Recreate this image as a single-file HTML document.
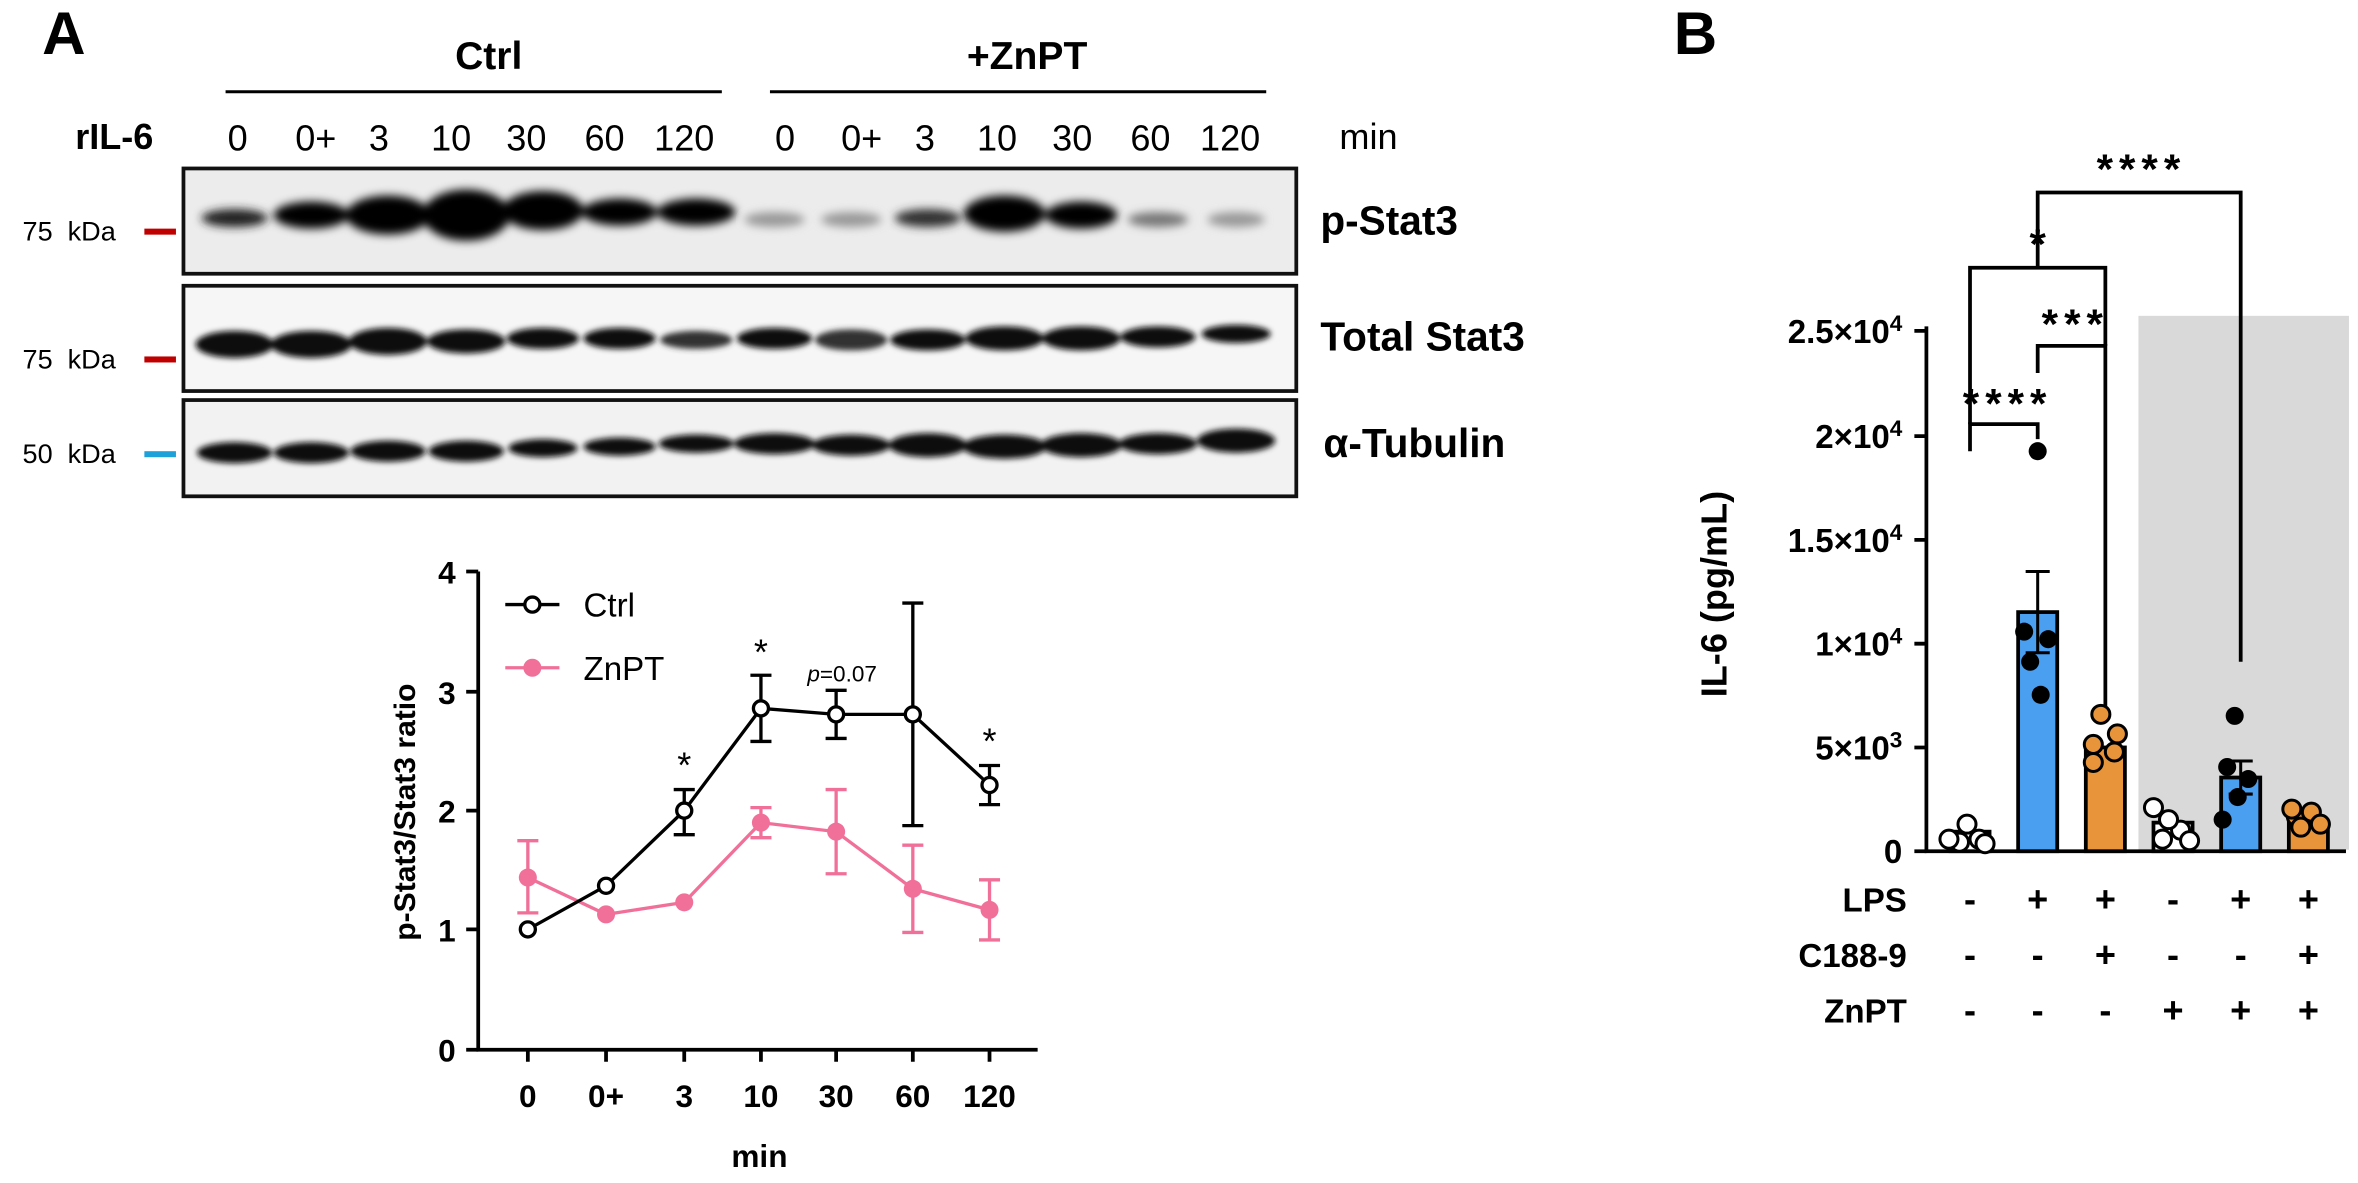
<!DOCTYPE html>
<html><head><meta charset="utf-8"><style>
html,body{margin:0;padding:0;background:#fff;}
svg{display:block;}
text{font-family:"Liberation Sans","DejaVu Sans",sans-serif;}
</style></head><body>
<svg width="2358" height="1183" viewBox="0 0 1568 786.6" xmlns="http://www.w3.org/2000/svg">
<defs>
<filter id="bl" x="-50%" y="-100%" width="200%" height="300%"><feGaussianBlur stdDeviation="3"/></filter>
<filter id="bl2" x="-50%" y="-100%" width="200%" height="300%"><feGaussianBlur stdDeviation="2"/></filter>
</defs>
<rect width="1568" height="787" fill="#fff"/>
<text x="28" y="36" font-size="40" font-weight="bold">A</text>
<text x="1113" y="36" font-size="40" font-weight="bold">B</text>
<text x="325" y="46" font-size="26" font-weight="bold" text-anchor="middle">Ctrl</text>
<line x1="150" y1="61" x2="480" y2="61" stroke="#000" stroke-width="2"/>
<text x="683" y="46" font-size="26" font-weight="bold" text-anchor="middle">+ZnPT</text>
<line x1="512" y1="61" x2="842" y2="61" stroke="#000" stroke-width="2"/>
<text x="50" y="99" font-size="24" font-weight="bold">rIL-6</text>
<g font-size="24" text-anchor="middle">
<text x="158" y="100">0</text><text x="210" y="100">0+</text><text x="252" y="100">3</text><text x="300" y="100">10</text><text x="350" y="100">30</text><text x="402" y="100">60</text><text x="455" y="100">120</text>
<text x="522" y="100">0</text><text x="573" y="100">0+</text><text x="615" y="100">3</text><text x="663" y="100">10</text><text x="713" y="100">30</text><text x="765" y="100">60</text><text x="818" y="100">120</text>
<text x="910" y="99">min</text>
</g>
<rect x="122" y="112" width="740" height="70" fill="#ececec" stroke="#111" stroke-width="2.5"/>
<rect x="122" y="190" width="740" height="70" fill="#f6f6f6" stroke="#111" stroke-width="2.5"/>
<rect x="122" y="266" width="740" height="64" fill="#f2f2f2" stroke="#111" stroke-width="2.5"/>
<g filter="url(#bl)">
<ellipse cx="156" cy="145" rx="22" ry="6" fill="#222"/>
<ellipse cx="207" cy="143" rx="25" ry="9" fill="#000"/>
<ellipse cx="258" cy="143" rx="28" ry="13" fill="#000"/>
<ellipse cx="310" cy="143" rx="29" ry="17" fill="#000"/>
<ellipse cx="361" cy="140" rx="27" ry="13" fill="#000"/>
<ellipse cx="412" cy="141" rx="25" ry="9" fill="#000"/>
<ellipse cx="463" cy="141" rx="26" ry="9" fill="#000"/>
<ellipse cx="515" cy="146" rx="20" ry="5" fill="#999"/>
<ellipse cx="566" cy="146" rx="20" ry="5" fill="#999"/>
<ellipse cx="617" cy="145" rx="22" ry="6" fill="#333"/>
<ellipse cx="668" cy="142" rx="27" ry="12" fill="#000"/>
<ellipse cx="719" cy="143" rx="24" ry="9" fill="#000"/>
<ellipse cx="770" cy="146" rx="20" ry="5" fill="#777"/>
<ellipse cx="822" cy="146" rx="19" ry="5" fill="#999"/>
</g>
<g filter="url(#bl2)" fill="#111">
<ellipse cx="156" cy="229" rx="26" ry="9"/><ellipse cx="207" cy="229" rx="27" ry="9"/><ellipse cx="258" cy="227" rx="26" ry="9"/><ellipse cx="310" cy="227" rx="26" ry="8"/><ellipse cx="361" cy="225" rx="24" ry="7"/><ellipse cx="412" cy="225" rx="24" ry="7"/><ellipse cx="463" cy="226" rx="24" ry="6" fill="#333"/>
<ellipse cx="515" cy="225" rx="25" ry="7"/><ellipse cx="566" cy="226" rx="24" ry="7" fill="#333"/><ellipse cx="617" cy="226" rx="25" ry="7"/><ellipse cx="668" cy="225" rx="26" ry="8"/><ellipse cx="719" cy="225" rx="26" ry="8"/><ellipse cx="770" cy="224" rx="25" ry="7"/><ellipse cx="822" cy="222" rx="23" ry="6"/>
<ellipse cx="156" cy="301" rx="25" ry="7"/><ellipse cx="207" cy="301" rx="25" ry="7"/><ellipse cx="258" cy="300" rx="25" ry="7"/><ellipse cx="310" cy="300" rx="25" ry="7"/><ellipse cx="361" cy="298" rx="23" ry="6"/><ellipse cx="412" cy="297" rx="24" ry="6"/><ellipse cx="463" cy="295" rx="25" ry="6"/>
<ellipse cx="515" cy="295" rx="27" ry="7"/><ellipse cx="566" cy="296" rx="26" ry="7"/><ellipse cx="617" cy="296" rx="26" ry="8"/><ellipse cx="668" cy="297" rx="28" ry="8"/><ellipse cx="719" cy="296" rx="27" ry="8"/><ellipse cx="770" cy="295" rx="26" ry="7"/><ellipse cx="822" cy="293" rx="26" ry="8"/>
</g>
<text x="878" y="156" font-size="27" font-weight="bold">p-Stat3</text>
<text x="878" y="233" font-size="27" font-weight="bold">Total Stat3</text>
<text x="880" y="304" font-size="27" font-weight="bold">α-Tubulin</text>
<g font-size="18"><text x="15" y="160" xml:space="preserve">75  kDa</text><text x="15" y="245" xml:space="preserve">75  kDa</text><text x="15" y="308" xml:space="preserve">50  kDa</text></g>
<rect x="96" y="152" width="21" height="4" fill="#c00000"/>
<rect x="96" y="237" width="21" height="4" fill="#c00000"/>
<rect x="96" y="300" width="21" height="4" fill="#1ea0d8"/>
<g stroke="#000" stroke-width="2.5" fill="none">
<path d="M318 380 V698 H690"/>
<path d="M310 380H318M310 460H318M310 539H318M310 618H318M310 698H318"/>
<path d="M351 698v8M403 698v8M455 698v8M506 698v8M556 698v8M607 698v8M658 698v8"/>
</g>
<g font-size="21" font-weight="bold" text-anchor="end">
<text x="303" y="388">4</text><text x="303" y="468">3</text><text x="303" y="547">2</text><text x="303" y="626">1</text><text x="303" y="706">0</text>
</g>
<g font-size="21" font-weight="bold" text-anchor="middle">
<text x="351" y="736">0</text><text x="403" y="736">0+</text><text x="455" y="736">3</text><text x="506" y="736">10</text><text x="556" y="736">30</text><text x="607" y="736">60</text><text x="658" y="736">120</text>
<text x="505" y="776">min</text>
</g>
<text transform="translate(276,540) rotate(-90)" font-size="20" font-weight="bold" text-anchor="middle">p-Stat3/Stat3 ratio</text>
<g stroke="#f0709a" stroke-width="2.2" fill="none">
<path d="M351 583.5V559M351 583.5V607 M344 559h14M344 607h14"/>
<path d="M403 608V603M403 608V613"/>
<path d="M455 600V596M455 600V604"/>
<path d="M506 547V537M506 547V557 M499 537h14M499 557h14"/>
<path d="M556 553V525M556 553V581 M549 525h14M549 581h14"/>
<path d="M607 591V562M607 591V620 M600 562h14M600 620h14"/>
<path d="M658 605V585M658 605V625 M651 585h14M651 625h14"/>
<polyline points="351,583.5 403,608 455,600 506,547 556,553 607,591 658,605"/>
</g>
<g fill="#f0709a"><circle cx="351" cy="583.5" r="6"/><circle cx="403" cy="608" r="6"/><circle cx="455" cy="600" r="6"/><circle cx="506" cy="547" r="6"/><circle cx="556" cy="553" r="6"/><circle cx="607" cy="591" r="6"/><circle cx="658" cy="605" r="6"/></g>
<g stroke="#000" stroke-width="2.2" fill="none">
<path d="M455 539V525M455 555V539 M448 525h14M448 555h14"/>
<path d="M506 471V449M506 471V493 M499 449h14M499 493h14"/>
<path d="M556 475V459M556 475V491 M549 459h14M549 491h14"/>
<path d="M607 475V401M607 475V549 M600 401h14M600 549h14"/>
<path d="M658 522V509M658 522V535 M651 509h14M651 535h14"/>
<polyline points="351,618 403,589 455,539 506,471 556,475 607,475 658,522"/>
</g>
<g fill="#fff" stroke="#000" stroke-width="2.2"><circle cx="351" cy="618" r="5"/><circle cx="403" cy="589" r="5"/><circle cx="455" cy="539" r="5"/><circle cx="506" cy="471" r="5"/><circle cx="556" cy="475" r="5"/><circle cx="607" cy="475" r="5"/><circle cx="658" cy="522" r="5"/></g>
<g font-size="24" text-anchor="middle"><text x="455" y="517">*</text><text x="506" y="442">*</text><text x="658" y="501">*</text></g>
<text x="560" y="453" font-size="15" text-anchor="middle"><tspan font-style="italic">p</tspan>=0.07</text>
<line x1="336" y1="402" x2="372" y2="402" stroke="#000" stroke-width="2.2"/><circle cx="354" cy="402" r="5" fill="#fff" stroke="#000" stroke-width="2.2"/>
<text x="388" y="410" font-size="22">Ctrl</text>
<line x1="336" y1="444" x2="372" y2="444" stroke="#f0709a" stroke-width="2.2"/><circle cx="354" cy="444" r="6" fill="#f0709a"/>
<text x="388" y="452" font-size="22">ZnPT</text>
<!-- Panel B -->
<rect x="1422" y="210" width="140" height="355" fill="#d9d9d9"/>
<g stroke="#000" stroke-width="2.5" fill="none">
<path d="M1281 217V566H1560"/>
<path d="M1273 566h8M1273 497h8M1273 428h8M1273 359h8M1273 290h8M1273 220h8"/>
</g>
<g font-size="22" font-weight="bold" text-anchor="end">
<text x="1265" y="574">0</text>
<text x="1265" y="505">5×10<tspan font-size="15" dy="-8">3</tspan></text>
<text x="1265" y="436">1×10<tspan font-size="15" dy="-8">4</tspan></text>
<text x="1265" y="367">1.5×10<tspan font-size="15" dy="-8">4</tspan></text>
<text x="1265" y="298">2×10<tspan font-size="15" dy="-8">4</tspan></text>
<text x="1265" y="228">2.5×10<tspan font-size="15" dy="-8">4</tspan></text>
</g>
<text transform="translate(1148,395) rotate(-90)" font-size="24" font-weight="bold" text-anchor="middle">IL-6 (pg/mL)</text>
<g stroke="#000" stroke-width="2.5">
<rect x="1297" y="553" width="26" height="13" fill="#fff"/>
<rect x="1342" y="407" width="26" height="159" fill="#4a9ff0"/>
<rect x="1387" y="497" width="26" height="69" fill="#e8943a"/>
<rect x="1432" y="547" width="26" height="19" fill="#fff"/>
<rect x="1477" y="517" width="26" height="49" fill="#4a9ff0"/>
<rect x="1522" y="547" width="26" height="19" fill="#e8943a"/>
<path d="M1355 407V380M1355 407V434M1347 380h16M1347 434h16M1490 517V506M1490 517V528M1482 506h16M1482 528h16" fill="none" stroke-width="2"/>
</g>
<g stroke="#000" stroke-width="2" fill="#fff">
<circle cx="1303" cy="560" r="6"/><circle cx="1316" cy="558" r="6"/><circle cx="1308" cy="548" r="6"/><circle cx="1296" cy="558" r="6"/><circle cx="1320" cy="561" r="6"/>
<circle cx="1438" cy="558" r="6"/><circle cx="1450" cy="552" r="6"/><circle cx="1442" cy="545" r="6"/><circle cx="1456" cy="559" r="6"/><circle cx="1432" cy="537" r="6"/>
</g>
<g fill="#000"><circle cx="1355" cy="300" r="6"/><circle cx="1346" cy="420" r="6"/><circle cx="1362" cy="425" r="6"/><circle cx="1350" cy="440" r="6"/><circle cx="1357" cy="462" r="6"/>
<circle cx="1486" cy="476" r="6"/><circle cx="1481" cy="510" r="6"/><circle cx="1495" cy="518" r="6"/><circle cx="1488" cy="530" r="6"/><circle cx="1478" cy="545" r="6"/></g>
<g fill="#e8943a" stroke="#000" stroke-width="2">
<circle cx="1397" cy="475" r="6"/><circle cx="1392" cy="495" r="6"/><circle cx="1406" cy="500" r="6"/><circle cx="1392" cy="507" r="6"/><circle cx="1408" cy="488" r="6"/>
<circle cx="1527" cy="543" r="6"/><circle cx="1537" cy="540" r="6"/><circle cx="1543" cy="548" r="6"/><circle cx="1530" cy="550" r="6"/><circle cx="1524" cy="538" r="6"/>
</g>
<g stroke="#000" stroke-width="2.5" fill="none">
<path d="M1310 300V282H1355V292"/>
<path d="M1355 248V230H1400V470"/>
<path d="M1310 282V178H1400V230"/>
<path d="M1355 178V128H1490V440"/>
</g>
<g font-size="28" font-weight="bold" text-anchor="middle" letter-spacing="4">
<text x="1335" y="278">****</text><text x="1380" y="225">***</text><text x="1357" y="172">*</text><text x="1424" y="122">****</text>
</g>
<g font-size="22" font-weight="bold">
<text x="1268" y="606" text-anchor="end">LPS</text>
<text x="1268" y="643" text-anchor="end">C188-9</text>
<text x="1268" y="680" text-anchor="end">ZnPT</text>
</g>
<g font-size="24" font-weight="bold" text-anchor="middle">
<text x="1310" y="606">-</text><text x="1355" y="606">+</text><text x="1400" y="606">+</text><text x="1445" y="606">-</text><text x="1490" y="606">+</text><text x="1535" y="606">+</text>
<text x="1310" y="643">-</text><text x="1355" y="643">-</text><text x="1400" y="643">+</text><text x="1445" y="643">-</text><text x="1490" y="643">-</text><text x="1535" y="643">+</text>
<text x="1310" y="680">-</text><text x="1355" y="680">-</text><text x="1400" y="680">-</text><text x="1445" y="680">+</text><text x="1490" y="680">+</text><text x="1535" y="680">+</text>
</g>
</svg>
</body></html>
